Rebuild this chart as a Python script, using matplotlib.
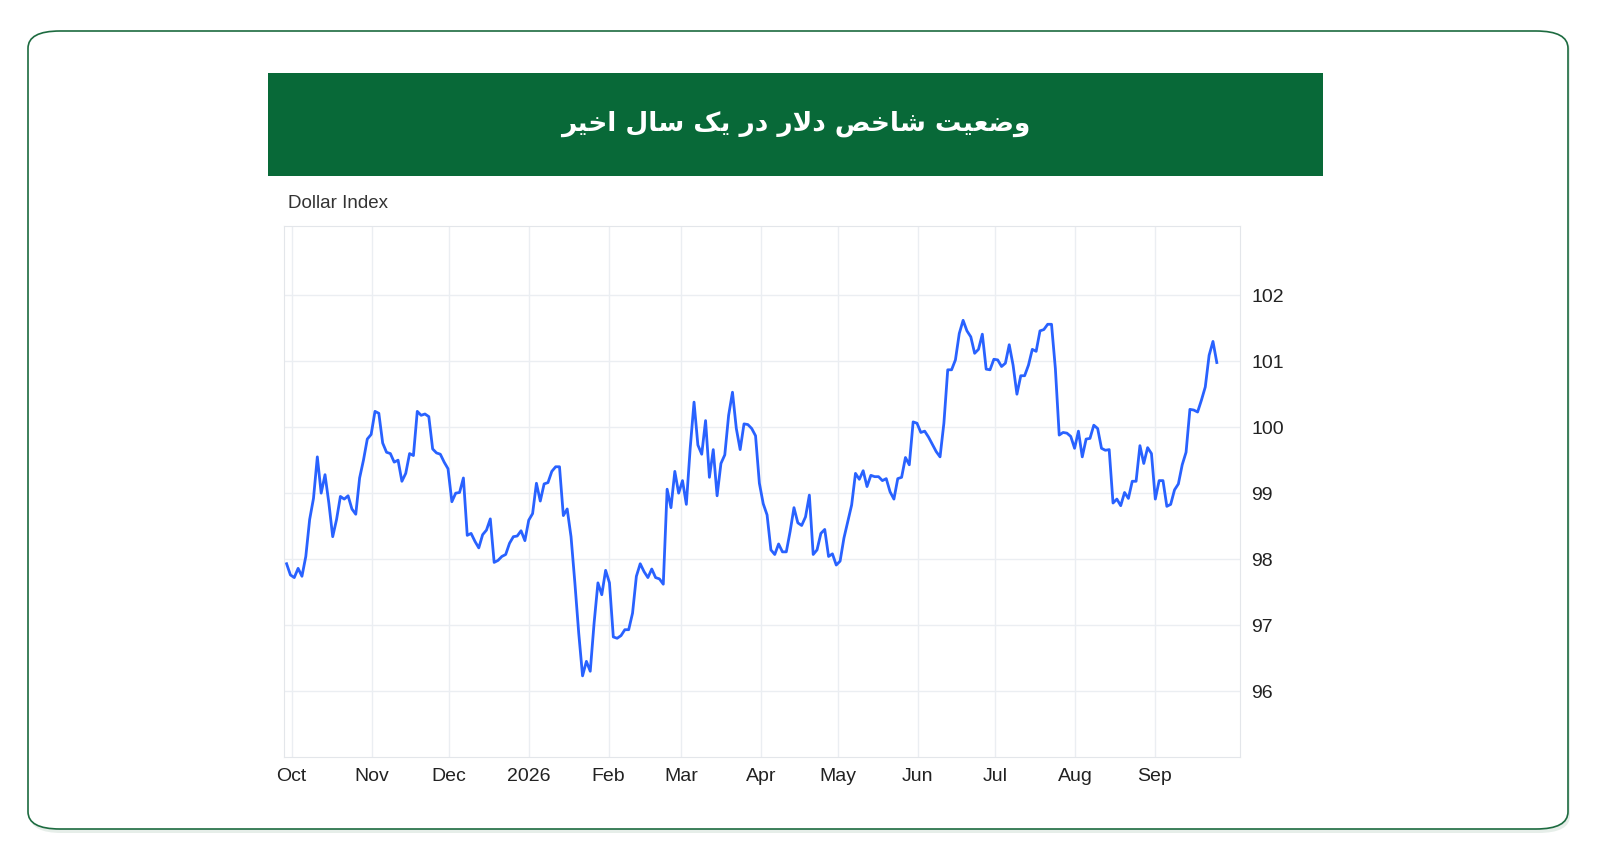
import matplotlib
matplotlib.use("Agg")
import matplotlib.pyplot as plt
import matplotlib.dates as mdates
from matplotlib.patches import FancyBboxPatch, Rectangle
import numpy as np
import pandas as pd

start_date = "2025-09-29"
end_date = "2026-09-25"
values = [
97.93,97.76,97.72,97.86,97.74,98.04,98.6,98.92,99.55,99.0,99.28,98.85,98.34,98.6,98.95,98.91,98.96,98.76,98.68,99.23,
99.5,99.82,99.89,100.24,100.21,99.76,99.62,99.6,99.47,99.5,99.18,99.3,99.6,99.57,100.24,100.18,100.2,100.16,99.67,99.61,
99.59,99.47,99.37,98.87,99.0,99.01,99.23,98.36,98.39,98.27,98.17,98.37,98.44,98.61,97.95,97.98,98.04,98.07,98.24,98.34,
98.35,98.43,98.28,98.59,98.69,99.15,98.88,99.14,99.16,99.33,99.4,99.4,98.66,98.76,98.34,97.64,96.88,96.23,96.45,96.3,
97.03,97.64,97.46,97.83,97.64,96.82,96.8,96.84,96.93,96.93,97.18,97.74,97.93,97.81,97.72,97.85,97.72,97.7,97.62,99.06,
98.78,99.33,99.0,99.19,98.83,99.68,100.38,99.73,99.59,100.1,99.24,99.66,98.96,99.45,99.58,
100.18,100.53,99.98,99.66,100.05,100.04,99.98,99.87,99.15,98.84,98.67,98.14,98.07,98.23,98.11,98.11,98.42,98.78,98.55,98.51,
98.64,98.97,98.07,98.14,98.39,98.45,98.04,98.08,97.91,97.97,98.32,98.57,98.82,99.30,99.21,99.34,99.10,99.27,99.25,99.25,
99.19,99.22,99.02,98.91,99.22,99.24,99.54,99.43,100.08,100.06,99.92,99.94,99.85,99.74,99.63,99.55,100.06,100.87,100.87,101.02,
101.42,101.62,101.46,101.37,101.12,101.18,101.41,100.88,100.87,101.03,101.02,100.92,100.97,101.25,100.94,100.50,100.78,100.78,100.94,101.18,
101.15,101.46,101.48,101.56,101.56,100.89,99.88,99.92,99.91,99.86,99.68,99.94,99.55,99.82,99.83,100.03,99.98,99.68,99.65,99.66,
98.85,98.91,98.81,99.01,98.92,99.18,99.18,99.72,99.45,99.69,99.60,98.91,99.19,99.19,98.80,98.83,99.05,99.14,99.43,99.62,
100.27,100.26,100.23,100.41,100.61,101.09,101.30,100.98]
month_ticks = ["2025-10-01","2025-11-01","2025-12-01","2026-01-01","2026-02-01","2026-03-01",
               "2026-04-01","2026-05-01","2026-06-01","2026-07-01","2026-08-01","2026-09-01"]
month_labels = ["Oct","Nov","Dec","2026","Feb","Mar","Apr","May","Jun","Jul","Aug","Sep"]
y_ticks = [96, 97, 98, 99, 100, 101, 102]

# Persian title, pre-shaped with presentation forms (visual order)
words = ["\uFEED\uFEBF\uFECC\uFBFF\uFE96", "\uFEB7\uFE8E\uFEA7\uFEBA", "\uFEA9\uFEFB\uFEAD",
         "\uFEA9\uFEAD", "\uFBFE\uFB8F", "\uFEB3\uFE8E\uFEDD", "\uFE8D\uFEA7\uFBFF\uFEAE"]
title = " ".join(words)[::-1]

dates = pd.to_datetime(np.linspace(pd.Timestamp(start_date).value, pd.Timestamp(end_date).value, len(values)))

W, H = 1600, 863
fig = plt.figure(figsize=(W/100, H/100), dpi=100)
fig.patch.set_facecolor("white")

# card shadow + card
shadow = FancyBboxPatch((30/W, (H-833)/H), 1540/W, 800/H, boxstyle="round,pad=0,rounding_size=0.02",
                        transform=fig.transFigure, facecolor="#e6eee9", edgecolor="none", zorder=0)
fig.patches.append(shadow)
card = FancyBboxPatch((28/W, (H-829)/H), 1540/W, 798/H, boxstyle="round,pad=0,rounding_size=0.02",
                      transform=fig.transFigure, facecolor="white", edgecolor="#1d6b40", linewidth=1.2, zorder=1)
fig.patches.append(card)
banner = Rectangle((268/W, (H-176.5)/H), 1055/W, 103/H, transform=fig.transFigure,
                   facecolor="#086938", edgecolor="none", zorder=2)
fig.patches.append(banner)
fig.text((268+1323)/2/W, (H-124)/H, title, color="white", fontsize=19, fontweight="bold",
         ha="center", va="center", family=["DejaVu Sans"], zorder=3)
fig.text(288/W, (H-203)/H, "Dollar Index", color="#333333", fontsize=13.5, ha="left", va="center",
         family=["Liberation Sans", "DejaVu Sans"], zorder=3)

ax = fig.add_axes([284/W, (H-757)/H, (1240-284)/W, (757-226)/H], zorder=4)
ax.set_facecolor("none")
ax.plot(dates, values, color="#2962ff", linewidth=2.0)
ax.set_xlim(pd.Timestamp("2025-09-28"), pd.Timestamp("2026-10-04"))
ax.set_ylim(95.0, 103.05)
ax.set_xticks(pd.to_datetime(month_ticks))
ax.set_xticklabels(month_labels)
ax.set_yticks(y_ticks)
ax.yaxis.tick_right()
ax.grid(True, color="#ebeef2", linewidth=1)
for s in ax.spines.values():
    s.set_color("#e3e6ea")
ax.tick_params(length=0, labelsize=14, colors="#222222", pad=8)
for lab in ax.get_xticklabels() + ax.get_yticklabels():
    lab.set_family(["Liberation Sans", "DejaVu Sans"])

fig.savefig("out.png", dpi=100)
